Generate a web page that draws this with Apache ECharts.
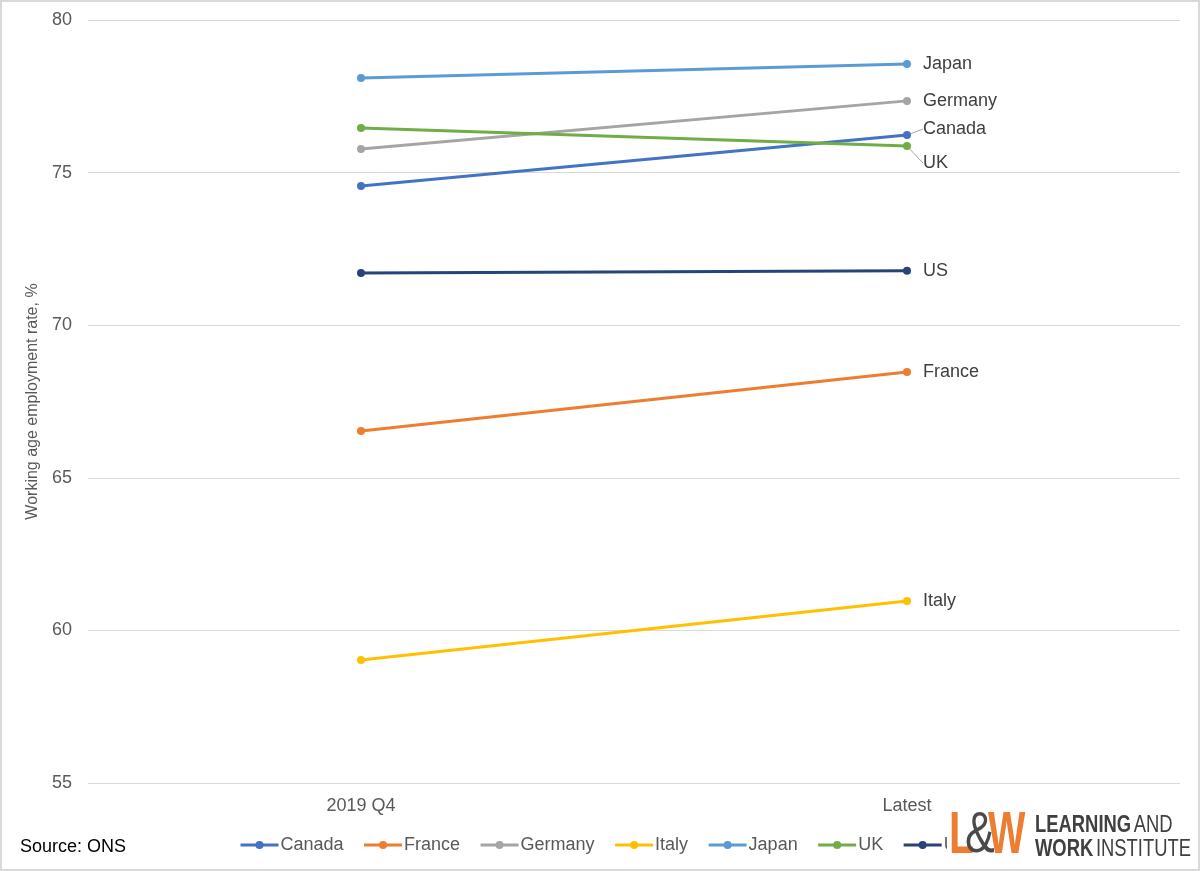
<!DOCTYPE html>
<html>
<head>
<meta charset="utf-8">
<script src="https://cdn.jsdelivr.net/npm/echarts@6/dist/echarts.min.js"></script>
<style>
html,body{margin:0;padding:0;background:#fff;}
#chart{width:1200px;height:871px;}
</style>
</head>
<body>
<div id="chart"></div>
<script>
const categories = ['2019 Q4', 'Latest'];
const canada  = [74.56, 76.23];
const france  = [66.53, 68.47];
const germany = [75.77, 77.35];
const italy   = [59.03, 60.96];
const japan   = [78.10, 78.56];
const uk      = [76.46, 75.87];
const us      = [71.71, 71.78];
const yTicks  = [55, 60, 65, 70, 75, 80];

const FONT = '"Liberation Sans", Arial, sans-serif';
const seriesDefs = [
  {name:'Canada', data:canada, color:'#4472C4', dy:-6},
  {name:'France', data:france, color:'#ED7D31', dy:0},
  {name:'Germany', data:germany, color:'#A5A5A5', dy:0},
  {name:'Italy', data:italy, color:'#FFC000', dy:0},
  {name:'Japan', data:japan, color:'#5B9BD5', dy:0},
  {name:'UK', data:uk, color:'#70AD47', dy:17},
  {name:'US', data:us, color:'#264478', dy:0}
];

const chart = echarts.init(document.getElementById('chart'), null, {renderer:'canvas'});
const option = {
  animation:false,
  backgroundColor:'#fff',
  textStyle:{fontFamily:FONT},
  grid:{left:88, right:20, top:20, bottom:88, containLabel:false},
  xAxis:{
    type:'category', data:categories, boundaryGap:true,
    axisLine:{show:false}, axisTick:{show:false},
    axisLabel:{color:'#595959', fontSize:18, fontFamily:FONT, margin:14}
  },
  yAxis:{
    type:'value', min:yTicks[0], max:yTicks[yTicks.length-1], interval:5,
    name:'Working age employment rate, %', nameLocation:'middle', nameGap:41,
    nameTextStyle:{color:'#595959', fontSize:16, fontFamily:FONT},
    axisLine:{show:false}, axisTick:{show:false},
    axisLabel:{color:'#595959', fontSize:18, fontFamily:FONT, margin:16},
    splitLine:{lineStyle:{color:'#d9d9d9', width:1}}
  },
  legend:{
    left:234, top:831, itemWidth:38, itemHeight:10, itemGap:19,
    lineStyle:{width:3},
    textStyle:{color:'#595959', fontSize:18, fontFamily:FONT, padding:[0,0,0,-3]},
    data:seriesDefs.map(s=>s.name)
  },
  series:seriesDefs.map(s=>({
    name:s.name, type:'line', color:s.color,
    symbol:'circle', symbolSize:8,
    lineStyle:{width:3, color:s.color},
    itemStyle:{color:s.color},
    data:s.data.map((v,i)=> i===s.data.length-1 ? {
      value:v,
      label:{show:true, position:'right', distance:12, formatter:s.name,
             color:'#404040', fontSize:18, fontFamily:FONT}
    } : v),
    labelLayout: s.dy ? {dy:s.dy} : undefined,
    labelLine: s.dy ? {show:true, lineStyle:{color:'#a6a6a6', width:1}} : undefined
  })),
  graphic:[
    {type:'rect', shape:{x:1,y:1,width:1198,height:869}, style:{fill:'none', stroke:'#d9d9d9', lineWidth:2}, z:100},
    {type:'text', left:20, top:838, style:{text:'Source: ONS', fill:'#000', fontSize:18, fontFamily:FONT}},
    {type:'rect', shape:{x:947,y:812,width:247,height:54}, style:{fill:'#fff'}, z:50},
    {type:'text', x:949, y:806, scaleX:0.68, style:{text:'L', fill:'#ED7D31', fontSize:60, fontWeight:'bold', fontFamily:FONT}, z:51},
    {type:'text', x:988, y:806, scaleX:0.66, style:{text:'W', fill:'#ED7D31', fontSize:60, fontWeight:'bold', fontFamily:FONT}, z:51},
    {type:'text', x:965, y:808, scaleX:0.78, style:{text:'&', fill:'#4a4a4a', fontSize:57, fontFamily:FONT}, z:52},
    {type:'text', x:1035, y:814, scaleX:0.8, style:{rich:{b:{fontWeight:'bold', fontSize:23, fill:'#404040', fontFamily:FONT}, r:{fontSize:23, fill:'#404040', fontFamily:FONT}}, text:'{b|LEARNING} {r|AND}'}, z:51},
    {type:'text', x:1035, y:838, scaleX:0.8, style:{rich:{b:{fontWeight:'bold', fontSize:23, fill:'#404040', fontFamily:FONT}, r:{fontSize:23, fill:'#404040', fontFamily:FONT}}, text:'{b|WORK} {r|INSTITUTE}'}, z:51}
  ]
};
chart.setOption(option);
</script>
</body>
</html>
